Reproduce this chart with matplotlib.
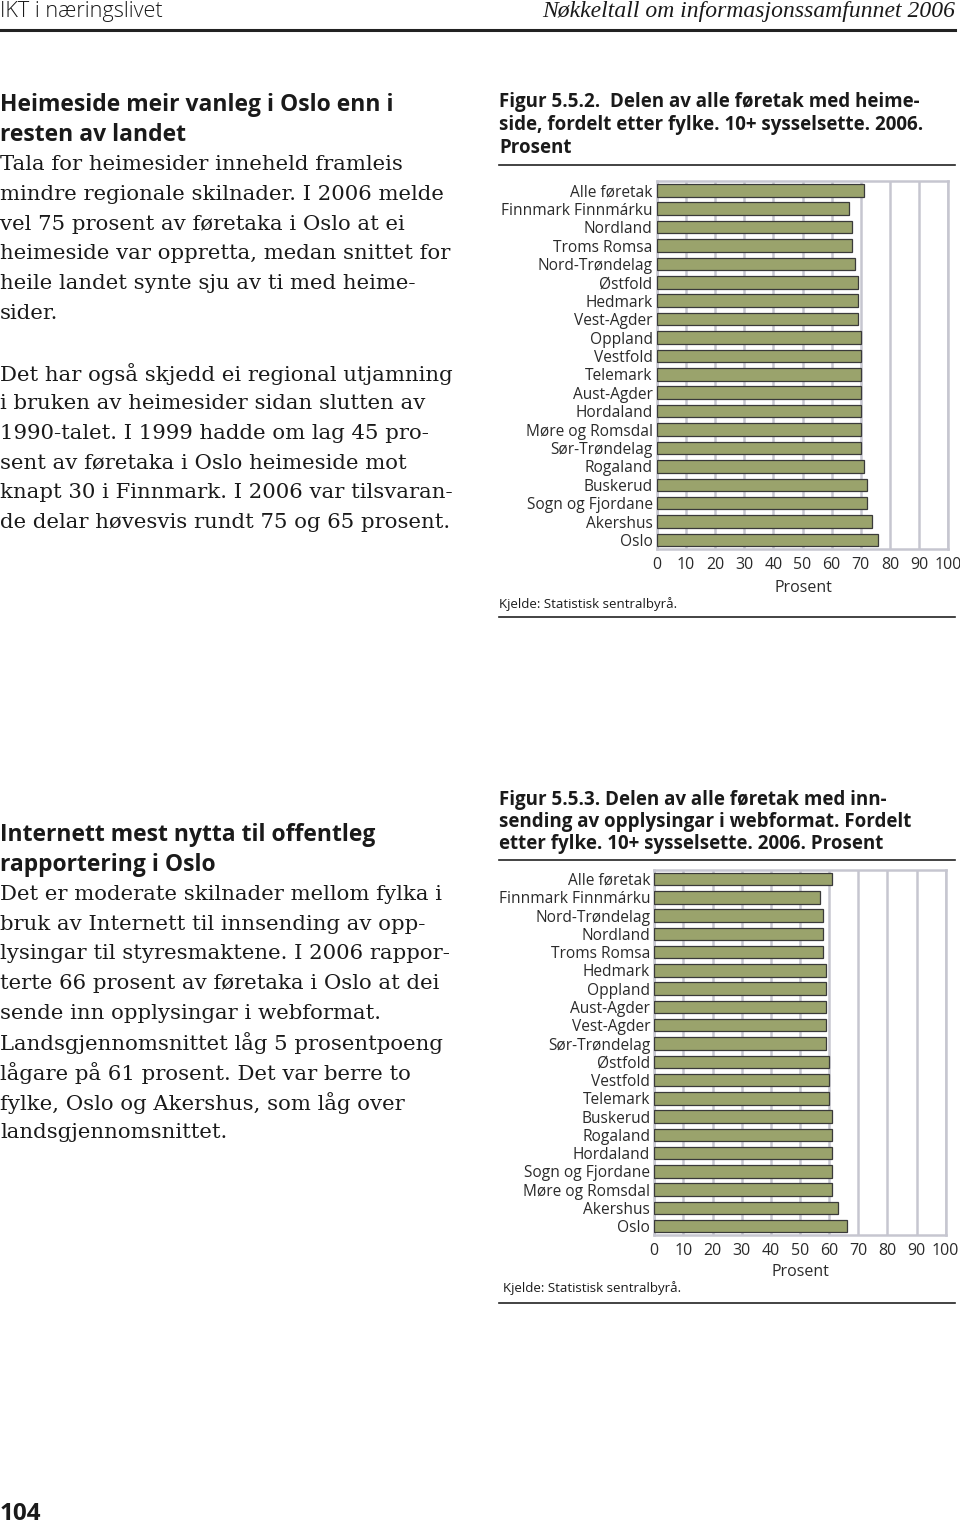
import matplotlib
matplotlib.use("Agg")
import matplotlib.pyplot as plt

W, H = 960, 1526

# ---------------- data ----------------
cats1 = ["Alle føretak", "Finnmark Finnmárku", "Nordland", "Troms Romsa", "Nord-Trøndelag",
         "Østfold", "Hedmark", "Vest-Agder", "Oppland", "Vestfold", "Telemark", "Aust-Agder",
         "Hordaland", "Møre og Romsdal", "Sør-Trøndelag", "Rogaland", "Buskerud",
         "Sogn og Fjordane", "Akershus", "Oslo"]
vals1 = [71, 66, 67, 67, 68, 69, 69, 69, 70, 70, 70, 70, 70, 70, 70, 71, 72, 72, 74, 76]

cats2 = ["Alle føretak", "Finnmark Finnmárku", "Nord-Trøndelag", "Nordland", "Troms Romsa",
         "Hedmark", "Oppland", "Aust-Agder", "Vest-Agder", "Sør-Trøndelag", "Østfold",
         "Vestfold", "Telemark", "Buskerud", "Rogaland", "Hordaland", "Sogn og Fjordane",
         "Møre og Romsdal", "Akershus", "Oslo"]
vals2 = [61, 57, 58, 58, 58, 59, 59, 59, 59, 59, 60, 60, 60, 61, 61, 61, 61, 61, 63, 66]

xticks = [0, 10, 20, 30, 40, 50, 60, 70, 80, 90, 100]

header_left = "IKT i næringslivet"
header_right = "Nøkkeltall om informasjonssamfunnet 2006"

block1_head = ["Heimeside meir vanleg i Oslo enn i", "resten av landet"]
block1_body = ["Tala for heimesider inneheld framleis",
               "mindre regionale skilnader. I 2006 melde",
               "vel 75 prosent av føretaka i Oslo at ei",
               "heimeside var oppretta, medan snittet for",
               "heile landet synte sju av ti med heime-",
               "sider."]
block1_body2 = ["Det har også skjedd ei regional utjamning",
                "i bruken av heimesider sidan slutten av",
                "1990-talet. I 1999 hadde om lag 45 pro-",
                "sent av føretaka i Oslo heimeside mot",
                "knapt 30 i Finnmark. I 2006 var tilsvaran-",
                "de delar høvesvis rundt 75 og 65 prosent."]
block2_head = ["Internett mest nytta til offentleg", "rapportering i Oslo"]
block2_body = ["Det er moderate skilnader mellom fylka i",
               "bruk av Internett til innsending av opp-",
               "lysingar til styresmaktene. I 2006 rappor-",
               "terte 66 prosent av føretaka i Oslo at dei",
               "sende inn opplysingar i webformat.",
               "Landsgjennomsnittet låg 5 prosentpoeng",
               "lågare på 61 prosent. Det var berre to",
               "fylke, Oslo og Akershus, som låg over",
               "landsgjennomsnittet."]

cap1 = ["Figur 5.5.2.  Delen av alle føretak med heime-",
        "side, fordelt etter fylke. 10+ sysselsette. 2006.",
        "Prosent"]
cap2 = ["Figur 5.5.3. Delen av alle føretak med inn-",
        "sending av opplysingar i webformat. Fordelt",
        "etter fylke. 10+ sysselsette. 2006. Prosent"]
source = "Kjelde: Statistisk sentralbyrå."
xlabel = "Prosent"
page_no = "104"

# ---------------- style ----------------
SANS = "Open Sans"
SERIF = "DejaVu Serif"
TXT = "#1a1a1a"
BAR = "#9aa36c"
EDGE = "#3a3a3a"
GRID = "#c6c6d0"
BODY_FS = 15.3
HEAD_FS = 16.5
CAP_FS = 13.5

fig = plt.figure(figsize=(W / 100, H / 100), dpi=100)
fig.patch.set_facecolor("white")


def fx(x):
    return x / W


def fy(y):
    return 1 - y / H


def ftext(x, y, s, **kw):
    fig.text(fx(x), fy(y), s, **kw)


def hline(x0, x1, y, lw=1.2, color="#222222"):
    fig.add_artist(plt.Line2D([fx(x0), fx(x1)], [fy(y), fy(y)], lw=lw, color=color,
                              transform=fig.transFigure))


# header
ftext(0, 12, header_left, fontsize=15.6, family=SANS, color=TXT, va="center", ha="left",
      fontweight="light")
ftext(955, 12, header_right, fontsize=17, family="Liberation Serif", style="italic",
      color=TXT, va="center", ha="right")
hline(0, 955, 29.5, lw=2.2)

# left text blocks
LS = 29.75
y = 105
for s in block1_head:
    ftext(0, y, s, fontsize=HEAD_FS, family=SANS, fontweight="bold", color=TXT, va="center")
    y += LS
for s in block1_body:
    ftext(0, y, s, fontsize=BODY_FS, family=SERIF, color=TXT, va="center")
    y += LS
y = 374
for s in block1_body2:
    ftext(0, y, s, fontsize=BODY_FS, family=SERIF, color=TXT, va="center")
    y += LS

y = 835
for s in block2_head:
    ftext(0, y, s, fontsize=HEAD_FS, family=SANS, fontweight="bold", color=TXT, va="center")
    y += LS
for s in block2_body:
    ftext(0, y, s, fontsize=BODY_FS, family=SERIF, color=TXT, va="center")
    y += LS

ftext(0, 1514, page_no, fontsize=17.5, family=SANS, fontweight="bold", color=TXT,
      va="center")


def chart(cats, vals, left, right, top, bottom, tick_y, lab_y, lab_x):
    ax = fig.add_axes([fx(left), fy(bottom), fx(right - left), (bottom - top) / H])
    pos = list(range(len(cats)))
    ax.barh(pos, vals, height=0.68, color=BAR, edgecolor=EDGE, linewidth=0.9, zorder=3)
    ax.set_xlim(0, 100)
    ax.set_ylim(len(cats) - 0.5, -0.5)
    ax.set_yticks(pos)
    ax.set_yticklabels(cats, fontsize=11.2, family=SANS, color="#2a2a2a")
    ax.set_xticks(xticks)
    ax.set_xticklabels([])
    ax.tick_params(length=0, pad=3)
    ax.grid(axis="x", color=GRID, linewidth=1.8, zorder=0)
    for sp in ax.spines.values():
        sp.set_color(GRID)
        sp.set_linewidth(1.8)
    for t in xticks:
        xp = left + (right - left) * t / 100
        ftext(xp, tick_y, str(t), fontsize=11.5, family=SANS, color="#2a2a2a",
              ha="center", va="center")
    ftext(lab_x, lab_y, xlabel, fontsize=11.5, family=SANS, color="#2a2a2a",
          ha="center", va="center")
    return ax


# chart 1
for i, s in enumerate(cap1):
    ftext(499, 102 + i * 23, s, fontsize=CAP_FS, family=SANS, fontweight="bold", color=TXT,
          va="center")
hline(499, 955, 165)
chart(cats1, vals1, 656.7, 948.3, 181.1, 549.2, 565, 588, 803)
ftext(499, 604, source, fontsize=9.5, family=SANS, color=TXT, va="center")
hline(499, 955, 617)

# chart 2
for i, s in enumerate(cap2):
    ftext(499, 800 + i * 22, s, fontsize=CAP_FS, family=SANS, fontweight="bold", color=TXT,
          va="center")
hline(499, 955, 860)
chart(cats2, vals2, 654.3, 945.7, 869.9, 1235.4, 1251, 1272, 800)
ftext(503, 1288, source, fontsize=9.5, family=SANS, color=TXT, va="center")
hline(499, 955, 1303)

fig.savefig("out.png", dpi=100, facecolor="white")
